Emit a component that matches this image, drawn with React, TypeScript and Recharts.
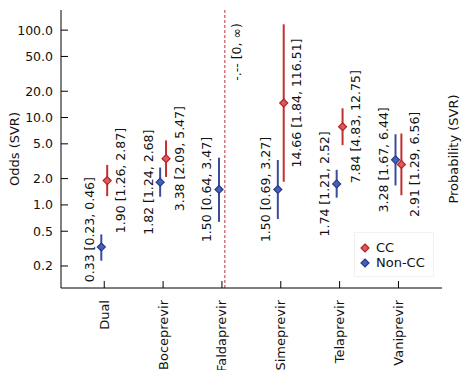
import React from 'react';
import {
  ComposedChart,
  Scatter,
  XAxis,
  YAxis,
  ErrorBar,
  ReferenceLine,
  Legend,
  Label,
} from 'recharts';

// ---- data ----
const categories = ['Dual', 'Boceprevir', 'Faldaprevir', 'Simeprevir', 'Telaprevir', 'Vaniprevir'];
const nonCcOdds = [0.33, 1.82, 1.5, 1.5, 1.74, 3.28];
const nonCcLow = [0.23, 1.24, 0.64, 0.69, 1.21, 1.67];
const nonCcHigh = [0.46, 2.68, 3.47, 3.27, 2.52, 6.44];
const ccOdds: (number | null)[] = [1.9, 3.38, null, 14.66, 7.84, 2.91];
const ccLow = [1.26, 2.09, 0, 1.84, 4.83, 1.29];
const ccHigh = [2.87, 5.47, Infinity, 116.51, 12.75, 6.56];
const yTicks = [0.2, 0.5, 1, 2, 5, 10, 20, 50, 100];
const seriesNames = ['CC', 'Non-CC'];

// ---- style ----
const FONT = '"DejaVu Sans", Verdana, sans-serif';
const RED_LINE = '#C42E30';
const RED_FILL = '#E0585A';
const RED_EDGE = '#B02426';
const BLUE_LINE = '#3B4C9C';
const BLUE_FILL = '#4460B8';
const BLUE_EDGE = '#2A3A88';
const CC_OFFSET = 0.05;
const NONCC_OFFSET = -0.05;
const PLOT_BOTTOM = 288;

const fmt = (v: number) => (v === Infinity ? '\u221E' : v === 0 ? '0' : v.toFixed(2));

const buildSeries = (odds: (number | null)[], lo: number[], hi: number[], off: number) =>
  odds
    .map((v, i) =>
      v === null
        ? null
        : {
            x: i + off,
            y: v,
            err: [v - lo[i], hi[i] - v],
            label: `${v.toFixed(2)} [${fmt(lo[i])}, ${fmt(hi[i])}]`,
          }
    )
    .filter((d) => d !== null) as { x: number; y: number; err: number[]; label: string }[];

const ccData = buildSeries(ccOdds, ccLow, ccHigh, CC_OFFSET);
const nonCcData = buildSeries(nonCcOdds, nonCcLow, nonCcHigh, NONCC_OFFSET);
const ccInfinite = ccOdds
  .map((v, i) => (v === null ? { x: i + CC_OFFSET, label: `-.-- [${fmt(ccLow[i])}, ${fmt(ccHigh[i])})` } : null))
  .filter((d) => d !== null) as { x: number; label: string }[];

const makeShape = (fill: string, edge: string, textDx: number) => (props: any) => {
  const { cx, cy, payload } = props;
  if (cx == null || cy == null) return <g />;
  const r = 4;
  const tx = cx + textDx;
  // keep long labels from running far below the plot (as in the original)
  const halfLen = payload.label.length * 3.55;
  const ty = Math.min(cy, PLOT_BOTTOM + 2 - halfLen);
  return (
    <g>
      <polygon
        points={`${cx},${cy - r} ${cx + r},${cy} ${cx},${cy + r} ${cx - r},${cy}`}
        fill={fill}
        stroke={edge}
        strokeWidth={1.2}
      />
      <text
        x={tx}
        y={ty}
        transform={`rotate(-90 ${tx} ${ty})`}
        textAnchor="middle"
        dominantBaseline="central"
        fontSize={12.5}
        fontFamily={FONT}
        fill="#111"
      >
        {payload.label}
      </text>
    </g>
  );
};

const YTick = (props: any) => {
  const { x, y, payload } = props;
  return (
    <g>
      <line x1={x} x2={x + 7} y1={y} y2={y} stroke="#000" strokeWidth={1} />
      <text
        x={x - 8}
        y={y}
        textAnchor="end"
        dominantBaseline="central"
        fontSize={12.5}
        fontFamily={FONT}
        fill="#111"
      >
        {Number(payload.value).toFixed(1)}
      </text>
    </g>
  );
};

const XTick = (props: any) => {
  const { x, y, payload } = props;
  const ty = y + 12;
  return (
    <g>
      <line x1={x} x2={x} y1={y} y2={y - 7} stroke="#000" strokeWidth={1} />
      <text
        x={x}
        y={ty}
        transform={`rotate(-90 ${x} ${ty})`}
        textAnchor="end"
        dominantBaseline="central"
        fontSize={13}
        fontFamily={FONT}
        fill="#111"
      >
        {categories[Math.round(payload.value)]}
      </text>
    </g>
  );
};

const LegendContent = () => {
  const items = [
    { name: seriesNames[0], fill: RED_FILL, edge: RED_EDGE },
    { name: seriesNames[1], fill: BLUE_FILL, edge: BLUE_EDGE },
  ];
  return (
    <div
      style={{
        fontFamily: FONT,
        fontSize: 13,
        color: '#111',
        lineHeight: '15px',
        padding: '7px 4px 6px 4px',
        border: '1px solid #f1f1f1',
        background: '#fff',
        whiteSpace: 'nowrap',
      }}
    >
      {items.map((it) => (
        <div key={it.name} style={{ display: 'flex', alignItems: 'center', height: 15 }}>
          <svg width={12} height={12} style={{ marginRight: 5, flexShrink: 0 }}>
            <polygon points="6,2 10,6 6,10 2,6" fill={it.fill} stroke={it.edge} strokeWidth={1.2} />
          </svg>
          <span>{it.name}</span>
        </div>
      ))}
    </div>
  );
};

export default function App() {
  return (
    <div style={{ position: 'absolute', left: 0, top: 0, background: '#fff' }}>
      <ComposedChart width={464} height={370} margin={{ top: 10, right: 0, bottom: 0, left: 0 }}>
        <XAxis
          type="number"
          dataKey="x"
          domain={[-0.735, 5.74]}
          allowDataOverflow
          ticks={[0, 1, 2, 3, 4, 5]}
          interval={0}
          height={82}
          tickSize={0}
          tickMargin={0}
          tickLine={false}
          tick={<XTick />}
          axisLine={{ stroke: '#000', strokeWidth: 1 }}
        />
        <YAxis
          yAxisId="odds"
          type="number"
          dataKey="y"
          scale="log"
          domain={[0.112, 170]}
          allowDataOverflow
          ticks={yTicks}
          interval={0}
          width={61}
          tickSize={0}
          tickMargin={0}
          tickLine={false}
          tick={<YTick />}
          axisLine={{ stroke: '#000', strokeWidth: 1 }}
        >
          <Label
            content={(p: any) => {
              const vb = p.viewBox || { x: 0, y: 10, width: 61, height: 278 };
              const cx = vb.x + 14;
              const cy = vb.y + vb.height / 2;
              return (
                <text x={cx} y={cy} transform={`rotate(-90 ${cx} ${cy})`} textAnchor="middle" dominantBaseline="central" fontSize={13} fontFamily={FONT} fill="#111">
                  Odds (SVR)
                </text>
              );
            }}
          />
        </YAxis>
        <YAxis
          yAxisId="prob"
          orientation="right"
          type="number"
          domain={[0, 1]}
          width={22}
          axisLine={false}
          tickLine={false}
          tick={false}
        >
          <Label
            content={(p: any) => {
              const vb = p.viewBox || { x: 442, y: 10, width: 22, height: 278 };
              const cx = vb.x + 11;
              const cy = vb.y + vb.height / 2;
              return (
                <text x={cx} y={cy} transform={`rotate(-90 ${cx} ${cy})`} textAnchor="middle" dominantBaseline="central" fontSize={13} fontFamily={FONT} fill="#111">
                  Probability (SVR)
                </text>
              );
            }}
          />
        </YAxis>
        {ccInfinite.map((d) => (
          <ReferenceLine
            key={d.label}
            yAxisId="odds"
            x={d.x}
            stroke={RED_LINE}
            strokeWidth={1}
            strokeDasharray="3 2"
            ifOverflow="extendDomain"
            label={(p: any) => {
              const vb = p.viewBox || { x: 0, y: 10, height: 278 };
              const cx = vb.x + 12;
              const cy = vb.y + 42;
              return (
                <text x={cx} y={cy} transform={`rotate(-90 ${cx} ${cy})`} textAnchor="middle" dominantBaseline="central" fontSize={12.5} fontFamily={FONT} fill="#111">
                  {d.label}
                </text>
              );
            }}
          />
        ))}
        <Scatter
          yAxisId="odds"
          name={seriesNames[1]}
          data={nonCcData}
          isAnimationActive={false}
          shape={makeShape(BLUE_FILL, BLUE_EDGE, -12)}
        >
          <ErrorBar dataKey="err" direction="y" width={0} stroke={BLUE_LINE} strokeWidth={2} isAnimationActive={false} />
        </Scatter>
        <Scatter
          yAxisId="odds"
          name={seriesNames[0]}
          data={ccData}
          isAnimationActive={false}
          shape={makeShape(RED_FILL, RED_EDGE, 13)}
        >
          <ErrorBar dataKey="err" direction="y" width={0} stroke={RED_LINE} strokeWidth={2} isAnimationActive={false} />
        </Scatter>
        <Legend
          layout="horizontal"
          verticalAlign="middle"
          align="center"
          content={<LegendContent />}
          wrapperStyle={{ position: 'absolute', left: 354, top: 232, width: 80 }}
        />
      </ComposedChart>
    </div>
  );
}
